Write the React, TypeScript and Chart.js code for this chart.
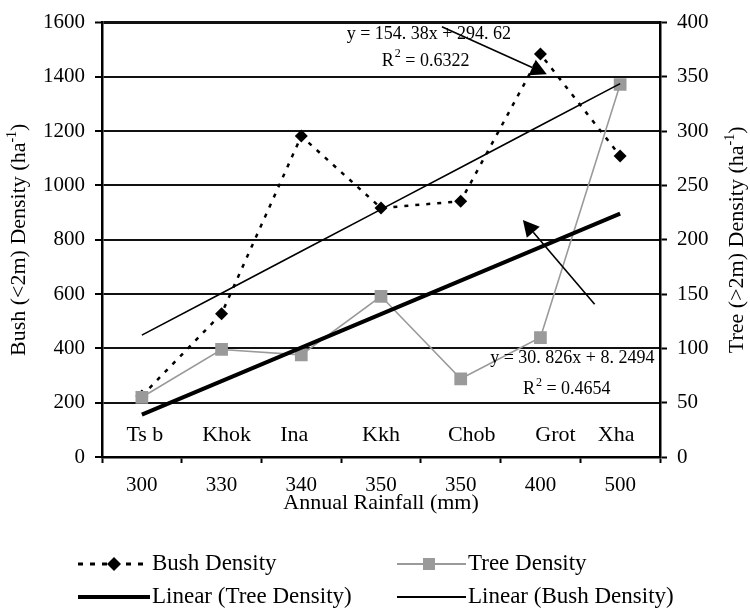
import React, { useEffect, useRef } from 'react';
import { Chart, registerables } from 'chart.js';

Chart.register(...registerables);

// ---------- data ----------
const rainfall = ['300', '330', '340', '350', '350', '400', '500'];
const sites = ['Ts b', 'Khok', 'Ina', 'Kkh', 'Chob', 'Grot', 'Xha'];
const bushDensity = [225, 528, 1182, 917, 942, 1484, 1109];
const treeDensity = [55, 99, 94, 148, 72, 110, 343];
// Trendline coefficients as printed on the chart
const bushTrendSlope = 154.38;
const bushTrendIntercept = 294.62;
const treeTrendSlope = 30.826;
const treeTrendIntercept = 8.2494;
const leftAxis = { min: 0, max: 1600, step: 200 };
const rightAxis = { min: 0, max: 400, step: 50 };

const bushTrend = rainfall.map((_, i) => bushTrendSlope * (i + 1) + bushTrendIntercept);
const treeTrend = rainfall.map((_, i) => treeTrendSlope * (i + 1) + treeTrendIntercept);

// ---------- layout / style ----------
const FONT = 'Liberation Serif';
const siteLabelOffsets = [3, 5, -7, 0, 11, 15, -4];
const GRAY = '#9a9a9a';

function drawArrow(ctx: CanvasRenderingContext2D, x1: number, y1: number, x2: number, y2: number) {
  const headLen = 16;
  const halfW = 8.5;
  const ang = Math.atan2(y2 - y1, x2 - x1);
  const bx = x2 - headLen * Math.cos(ang);
  const by = y2 - headLen * Math.sin(ang);
  ctx.save();
  ctx.strokeStyle = '#000';
  ctx.fillStyle = '#000';
  ctx.lineWidth = 1.6;
  ctx.beginPath();
  ctx.moveTo(x1, y1);
  ctx.lineTo(bx, by);
  ctx.stroke();
  ctx.beginPath();
  ctx.moveTo(x2, y2);
  ctx.lineTo(bx - halfW * Math.sin(ang), by + halfW * Math.cos(ang));
  ctx.lineTo(bx + halfW * Math.sin(ang), by - halfW * Math.cos(ang));
  ctx.closePath();
  ctx.fill();
  ctx.restore();
}

function drawR2(ctx: CanvasRenderingContext2D, x: number, y: number, value: string) {
  ctx.save();
  ctx.fillStyle = '#000';
  ctx.textBaseline = 'middle';
  ctx.textAlign = 'left';
  ctx.font = `18px "${FONT}"`;
  ctx.fillText('R', x, y);
  let cx = x + ctx.measureText('R').width + 1;
  ctx.font = `12px "${FONT}"`;
  ctx.fillText('2', cx, y - 7);
  cx += ctx.measureText('2').width;
  ctx.font = `18px "${FONT}"`;
  ctx.fillText(' = ' + value, cx, y);
  ctx.restore();
}

function drawRotTitle(ctx: CanvasRenderingContext2D, cx: number, cy: number, main: string, sup: string, tail: string) {
  ctx.save();
  ctx.translate(cx, cy);
  ctx.rotate(-Math.PI / 2);
  ctx.fillStyle = '#000';
  ctx.textBaseline = 'middle';
  ctx.textAlign = 'left';
  const big = `22px "${FONT}"`;
  const small = `14px "${FONT}"`;
  ctx.font = big;
  const w1 = ctx.measureText(main).width;
  const w3 = ctx.measureText(tail).width;
  ctx.font = small;
  const w2 = ctx.measureText(sup).width;
  const total = w1 + w2 + w3;
  let x = -total / 2;
  ctx.font = big;
  ctx.fillText(main, x, 0);
  x += w1;
  ctx.font = small;
  ctx.fillText(sup, x, -7);
  x += w2;
  ctx.font = big;
  ctx.fillText(tail, x, 0);
  ctx.restore();
}

const overlayPlugin = {
  id: 'overlay',
  afterDatasetsDraw(chart: any) {
    const ctx: CanvasRenderingContext2D = chart.ctx;
    const xs = chart.scales.x;
    const ys = chart.scales.y;
    const area = chart.chartArea;
    const px = (i: number) => xs.getPixelForValue(i);
    const py = (v: number) => ys.getPixelForValue(v);

    // site labels inside plot
    ctx.save();
    ctx.fillStyle = '#000';
    ctx.font = `22px "${FONT}"`;
    ctx.textAlign = 'center';
    ctx.textBaseline = 'middle';
    sites.forEach((s, i) => {
      ctx.fillText(s, px(i) + siteLabelOffsets[i], py(80));
    });

    // trendline equations
    ctx.font = `18px "${FONT}"`;
    ctx.textAlign = 'left';
    ctx.fillText('y = 154. 38x + 294. 62', px(2.57), py(1556));
    ctx.fillText('y = 30. 826x + 8. 2494', px(4.37), py(365));
    ctx.restore();
    drawR2(ctx, px(3.01), py(1458), '0.6322');
    drawR2(ctx, px(4.78), py(248), '0.4654');

    // arrows
    drawArrow(ctx, px(3.764), py(1585), px(5.08), py(1410));
    drawArrow(ctx, px(5.68), py(563), px(4.78), py(873));

    // axis titles
    drawRotTitle(ctx, 19, (area.top + area.bottom) / 2, 'Bush (<2m) Density (ha', '-1', ')');
    drawRotTitle(ctx, 737, (area.top + area.bottom) / 2, 'Tree (>2m) Density (ha', '-1', ')');

    // legend
    const row1 = 564;
    const row2 = 597;
    ctx.save();
    ctx.fillStyle = '#000';
    ctx.font = `23px "${FONT}"`;
    ctx.textAlign = 'left';
    ctx.textBaseline = 'middle';

    // Bush Density sample
    ctx.strokeStyle = '#000';
    ctx.lineWidth = 3;
    ctx.setLineDash([5, 7]);
    ctx.beginPath();
    ctx.moveTo(78, row1);
    ctx.lineTo(150, row1);
    ctx.stroke();
    ctx.setLineDash([]);
    ctx.beginPath();
    ctx.moveTo(114, row1 - 7);
    ctx.lineTo(121, row1);
    ctx.lineTo(114, row1 + 7);
    ctx.lineTo(107, row1);
    ctx.closePath();
    ctx.fill();
    ctx.fillText('Bush Density', 152, row1);

    // Tree Density sample
    ctx.strokeStyle = GRAY;
    ctx.lineWidth = 2;
    ctx.beginPath();
    ctx.moveTo(397, row1);
    ctx.lineTo(466, row1);
    ctx.stroke();
    ctx.fillStyle = GRAY;
    ctx.fillRect(423, row1 - 6, 12, 12);
    ctx.fillStyle = '#000';
    ctx.fillText('Tree Density', 468, row1);

    // Linear (Tree Density)
    ctx.strokeStyle = '#000';
    ctx.lineWidth = 4;
    ctx.beginPath();
    ctx.moveTo(78, row2);
    ctx.lineTo(150, row2);
    ctx.stroke();
    ctx.fillText('Linear (Tree Density)', 152, row2);

    // Linear (Bush Density)
    ctx.lineWidth = 2;
    ctx.beginPath();
    ctx.moveTo(397, row2);
    ctx.lineTo(466, row2);
    ctx.stroke();
    ctx.fillText('Linear (Bush Density)', 468, row2);
    ctx.restore();
  },
};

export default function App() {
  const ref = useRef<HTMLCanvasElement | null>(null);

  useEffect(() => {
    document.body.style.margin = '0';
    const canvas = ref.current;
    if (!canvas) return;
    const chart = new Chart(canvas, {
      type: 'line',
      data: {
        labels: rainfall,
        datasets: [
          {
            label: 'Linear (Tree Density)',
            data: treeTrend,
            yAxisID: 'y1',
            borderColor: '#000',
            borderWidth: 4,
            pointRadius: 0,
            fill: false,
          },
          {
            label: 'Linear (Bush Density)',
            data: bushTrend,
            yAxisID: 'y',
            borderColor: '#000',
            borderWidth: 1.6,
            pointRadius: 0,
            fill: false,
          },
          {
            label: 'Tree Density',
            data: treeDensity,
            yAxisID: 'y1',
            borderColor: GRAY,
            borderWidth: 1.6,
            pointStyle: 'rect',
            pointRadius: 9,
            pointBackgroundColor: GRAY,
            pointBorderColor: GRAY,
            pointBorderWidth: 0,
            fill: false,
          },
          {
            label: 'Bush Density',
            data: bushDensity,
            yAxisID: 'y',
            borderColor: '#000',
            borderWidth: 2.5,
            borderDash: [4, 7],
            pointStyle: 'rectRot',
            pointRadius: 6.5,
            pointBackgroundColor: '#000',
            pointBorderColor: '#000',
            pointBorderWidth: 0,
            fill: false,
          },
        ],
      },
      options: {
        responsive: false,
        animation: false,
        devicePixelRatio: 1,
        layout: { padding: { top: 19, bottom: 93, left: 0, right: 0 } },
        plugins: {
          legend: { display: false },
          tooltip: { enabled: false },
        },
        scales: {
          x: {
            type: 'category',
            offset: true,
            grid: {
              offset: true,
              drawOnChartArea: false,
              drawTicks: true,
              tickLength: 6,
              tickColor: '#000',
              tickWidth: 2,
            },
            border: { display: true, color: '#000', width: 2.5 },
            ticks: {
              color: '#000',
              font: { family: FONT, size: 21 },
              padding: 10,
              maxRotation: 0,
              autoSkip: false,
            },
            title: {
              display: true,
              text: 'Annual Rainfall (mm)',
              color: '#000',
              font: { family: FONT, size: 22 },
              padding: { top: 0, bottom: 0 },
            },
            afterFit: (s: any) => {
              s.height = 59;
            },
          },
          y: {
            position: 'left',
            min: leftAxis.min,
            max: leftAxis.max,
            grid: {
              color: '#111',
              lineWidth: (c: any) => (c.tick && c.tick.value === leftAxis.max ? 3 : 2),
              drawTicks: true,
              tickLength: 7,
              tickColor: '#000',
              tickWidth: 2,
            },
            border: { display: true, color: '#000', width: 2.5 },
            ticks: {
              stepSize: leftAxis.step,
              color: '#000',
              font: { family: FONT, size: 21 },
              padding: 10,
              callback: (v: any) => String(v),
            },
            afterFit: (s: any) => {
              s.width = 102;
            },
          },
          y1: {
            position: 'right',
            min: rightAxis.min,
            max: rightAxis.max,
            grid: {
              drawOnChartArea: false,
              drawTicks: true,
              tickLength: 7,
              tickColor: '#000',
              tickWidth: 2,
            },
            border: { display: true, color: '#000', width: 2.5 },
            ticks: {
              stepSize: rightAxis.step,
              color: '#000',
              font: { family: FONT, size: 21 },
              padding: 10,
              callback: (v: any) => String(v),
            },
            afterFit: (s: any) => {
              s.width = 90;
            },
          },
        },
      },
      plugins: [overlayPlugin],
    });
    return () => chart.destroy();
  }, []);

  return (
    <div style={{ width: 750, height: 609 }}>
      <canvas ref={ref} width={750} height={609} style={{ display: 'block', width: 750, height: 609 }} />
    </div>
  );
}
